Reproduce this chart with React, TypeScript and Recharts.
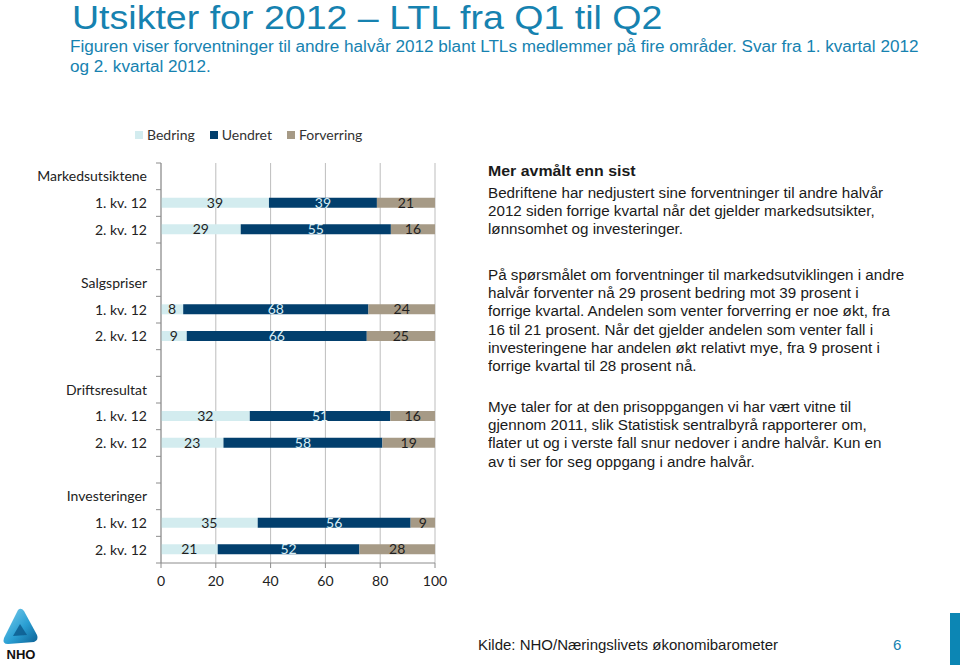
import { Bar, BarChart, CartesianGrid, LabelList, Legend, XAxis, YAxis } from 'recharts';

const ROW_LABELS = [
    'Markedsutsiktene', '1. kv. 12', '2. kv. 12', '',
    'Salgspriser', '1. kv. 12', '2. kv. 12', '',
    'Driftsresultat', '1. kv. 12', '2. kv. 12', '',
    'Investeringer', '1. kv. 12', '2. kv. 12',
];
const BEDRING = [null, 39.4, 29.1, null, null, 8.1, 9.4, null, null, 32.4, 22.8, null, null, 35.3, 20.7];
const UENDRET = [null, 39.4, 54.8, null, null, 67.6, 65.7, null, null, 51.3, 58.0, null, null, 55.8, 51.7];
const FORVERRING = [null, 21.2, 16.1, null, null, 24.3, 24.9, null, null, 16.3, 19.2, null, null, 8.9, 27.6];
const X_TICKS = [0, 20, 40, 60, 80, 100];

const SERIES = [
    { key: 'bedring', name: 'Bedring', color: '#d3ecef', text: '#1f1f1f' },
    { key: 'uendret', name: 'Uendret', color: '#023f6d', text: '#d9eef5' },
    { key: 'forverring', name: 'Forverring', color: '#a69a86', text: '#1f1f1f' },
];

const TEAL = '#1682b0';
const CHART_W = 460;
const CHART_H = 480;
const MARGIN = { top: 43, right: 25, left: 0, bottom: 7 };
const X_AXIS_H = 30;
const PLOT_H = CHART_H - MARGIN.top - MARGIN.bottom - X_AXIS_H;
const BAND = PLOT_H / ROW_LABELS.length;

const data = ROW_LABELS.map((label, i) => ({
    row: String(i),
    label,
    bedring: BEDRING[i],
    uendret: UENDRET[i],
    forverring: FORVERRING[i],
}));

const chartFont = 'Lato, "Open Sans", sans-serif';
const sansFont = '"Liberation Sans", Arial, sans-serif';

function RowTick(props: any) {
    const { x, y, payload, index } = props;
    const last = index === ROW_LABELS.length - 1;
    return (
        <g>
            <line x1={x + 9} x2={x + 14} y1={y - BAND / 2} y2={y - BAND / 2} stroke="#8c8c8c" />
            {last && <line x1={x + 9} x2={x + 14} y1={y + BAND / 2} y2={y + BAND / 2} stroke="#8c8c8c" />}
            <text x={x} y={y} dy="0.35em" textAnchor="end" fontSize={14} fill="#222" fontFamily={chartFont}>
                {ROW_LABELS[Number(payload.value)]}
            </text>
        </g>
    );
}

function LegendContent() {
    return (
        <div style={{ display: 'flex', alignItems: 'center', fontFamily: chartFont, fontSize: 14, color: '#333', lineHeight: '20px' }}>
            {SERIES.map((s) => (
                <div key={s.key} style={{ display: 'flex', alignItems: 'center', marginRight: 15 }}>
                    <span style={{ width: 8, height: 8, background: s.color, display: 'inline-block', marginRight: 4 }} />
                    <span>{s.name}</span>
                </div>
            ))}
        </div>
    );
}

function NhoLogo() {
    return (
        <svg width={44} height={56} viewBox="0 0 44 56" style={{ position: 'absolute', left: 0, top: 607 }}>
            <defs>
                <linearGradient id="nhoGrad" x1="0" y1="0" x2="1" y2="1">
                    <stop offset="0%" stopColor="#7fd0ee" />
                    <stop offset="55%" stopColor="#2a9fd3" />
                    <stop offset="100%" stopColor="#0b5f93" />
                </linearGradient>
            </defs>
            <path d="M18 3 Q21 0 24 4 L37 28 Q39 33 34 35 L8 37 Q2 37 4 31 Z" fill="url(#nhoGrad)" />
            <path d="M20 17 L27 28 L13 29 Z" fill="#0d5c8e" opacity={0.85} />
            <text x={21} y={52} textAnchor="middle" fontFamily={sansFont} fontWeight={700} fontSize={13} fill="#111">
                NHO
            </text>
        </svg>
    );
}

const bodyText: React.CSSProperties = {
    position: 'absolute',
    left: 488,
    fontFamily: sansFont,
    fontSize: 14,
    lineHeight: '18.2px',
    color: '#1a1a1a',
    whiteSpace: 'nowrap',
    transform: 'scaleX(1.085)',
    transformOrigin: 'left top',
};

export default function App() {
    return (
        <div style={{ position: 'absolute', left: 0, top: 0, width: 960, height: 665, background: '#fff', overflow: 'hidden' }}>
            <div
                style={{
                    position: 'absolute',
                    left: 72,
                    top: 0,
                    fontFamily: sansFont,
                    fontSize: 32.5,
                    lineHeight: '37px',
                    color: TEAL,
                    whiteSpace: 'nowrap',
                    transform: 'scaleX(1.155)',
                    transformOrigin: 'left top',
                }}
            >
                Utsikter for 2012 – LTL fra Q1 til Q2
            </div>
            <div
                style={{
                    position: 'absolute',
                    left: 70,
                    top: 37,
                    fontFamily: sansFont,
                    fontSize: 16,
                    lineHeight: '19.5px',
                    color: TEAL,
                    whiteSpace: 'nowrap',
                    transform: 'scaleX(1.07)',
                    transformOrigin: 'left top',
                }}
            >
                Figuren viser forventninger til andre halvår 2012 blant LTLs medlemmer på fire områder. Svar fra 1. kvartal 2012
                <br />
                og 2. kvartal 2012.
            </div>

            <div style={{ position: 'absolute', left: 0, top: 120 }}>
                <BarChart width={CHART_W} height={CHART_H} data={data} layout="vertical" margin={MARGIN} barSize={10} style={{ fontFamily: chartFont }}>
                    <CartesianGrid horizontal={false} stroke="#bdbdbd" />
                    <XAxis
                        type="number"
                        domain={[0, 100]}
                        ticks={X_TICKS}
                        height={X_AXIS_H}
                        stroke="#8c8c8c"
                        tickSize={5}
                        tickMargin={8}
                        tick={{ fontSize: 14, fill: '#222', fontFamily: chartFont }}
                    />
                    <YAxis
                        type="category"
                        dataKey="row"
                        width={161}
                        stroke="#8c8c8c"
                        tickLine={false}
                        tickSize={0}
                        tickMargin={14}
                        interval={0}
                        tick={<RowTick />}
                    />
                    <Legend
                        layout="horizontal"
                        verticalAlign="middle"
                        align="center"
                        wrapperStyle={{ top: 5, left: 135, width: 'auto' }}
                        content={<LegendContent />}
                    />
                    {SERIES.map((s) => (
                        <Bar key={s.key} dataKey={s.key} name={s.name} stackId="a" fill={s.color} isAnimationActive={false}>
                            <LabelList
                                dataKey={s.key}
                                position="center"
                                fill={s.text}
                                fontSize={14}
                                fontFamily={chartFont}
                                formatter={(v: any) => (v == null ? '' : Math.round(Number(v)))}
                            />
                        </Bar>
                    ))}
                </BarChart>
            </div>

            <div style={{ ...bodyText, top: 162, fontWeight: 700, fontSize: 15, transform: 'scaleX(1.06)' }}>Mer avmålt enn sist</div>
            <div style={{ ...bodyText, top: 184 }}>
                Bedriftene har nedjustert sine forventninger til andre halvår
                <br />
                2012 siden forrige kvartal når det gjelder markedsutsikter,
                <br />
                lønnsomhet og investeringer.
            </div>
            <div style={{ ...bodyText, top: 266 }}>
                På spørsmålet om forventninger til markedsutviklingen i andre
                <br />
                halvår forventer nå 29 prosent bedring mot 39 prosent i
                <br />
                forrige kvartal. Andelen som venter forverring er noe økt, fra
                <br />
                16 til 21 prosent. Når det gjelder andelen som venter fall i
                <br />
                investeringene har andelen økt relativt mye, fra 9 prosent i
                <br />
                forrige kvartal til 28 prosent nå.
            </div>
            <div style={{ ...bodyText, top: 398 }}>
                Mye taler for at den prisoppgangen vi har vært vitne til
                <br />
                gjennom 2011, slik Statistisk sentralbyrå rapporterer om,
                <br />
                flater ut og i verste fall snur nedover i andre halvår. Kun en
                <br />
                av ti ser for seg oppgang i andre halvår.
            </div>

            <NhoLogo />
            <div
                style={{
                    position: 'absolute',
                    left: 478,
                    top: 636,
                    fontFamily: sansFont,
                    fontSize: 15,
                    lineHeight: '18px',
                    color: '#1a1a1a',
                    whiteSpace: 'nowrap',
                }}
            >
                Kilde: NHO/Næringslivets økonomibarometer
            </div>
            <div
                style={{
                    position: 'absolute',
                    left: 893,
                    top: 636,
                    fontFamily: sansFont,
                    fontSize: 15,
                    lineHeight: '18px',
                    color: TEAL,
                }}
            >
                6
            </div>
            <div style={{ position: 'absolute', left: 950, top: 613, width: 10, height: 52, background: '#0c86b4' }} />
        </div>
    );
}
